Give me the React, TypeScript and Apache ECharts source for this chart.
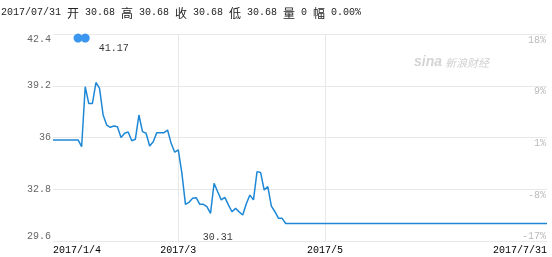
import React, { useEffect, useRef } from "react";
import * as echarts from "echarts";

const prices: number[] = [
  35.85, 35.85, 35.85, 35.85, 35.85, 35.85, 35.85, 35.85, 35.43, 39.14,
  38.1, 38.1, 39.4, 39.04, 37.39, 36.77, 36.63, 36.71, 36.67, 36.0,
  36.26, 36.34, 35.8, 35.89, 37.39, 36.36, 36.26, 35.47, 35.74, 36.3,
  36.3, 36.3, 36.46, 35.64, 35.09, 35.23, 33.8, 31.87, 31.99, 32.24,
  32.28, 31.87, 31.87, 31.72, 31.31, 33.17, 32.65, 32.14, 32.3, 31.83,
  31.41, 31.62, 31.4, 31.21, 31.9, 32.44, 32.14, 33.89, 33.83, 32.75,
  32.96, 31.76, 31.41, 31.0, 31.0, 30.68, 30.68, 30.68, 30.68, 30.68,
  30.68, 30.68, 30.68, 30.68, 30.68, 30.68, 30.68, 30.68, 30.68, 30.68,
  30.68, 30.68, 30.68, 30.68, 30.68, 30.68, 30.68, 30.68, 30.68, 30.68,
  30.68, 30.68, 30.68, 30.68, 30.68, 30.68, 30.68, 30.68, 30.68, 30.68,
  30.68, 30.68, 30.68, 30.68, 30.68, 30.68, 30.68, 30.68, 30.68, 30.68,
  30.68, 30.68, 30.68, 30.68, 30.68, 30.68, 30.68, 30.68, 30.68, 30.68,
  30.68, 30.68, 30.68, 30.68, 30.68, 30.68, 30.68, 30.68, 30.68, 30.68,
  30.68, 30.68, 30.68, 30.68, 30.68, 30.68, 30.68, 30.68, 30.68,
];

const xTickIndex: number[] = [0, 35, 76, 138];
const xTickLabels: string[] = ["2017/1/4", "2017/3", "2017/5", "2017/7/31"];
const leftTicks: string[] = ["29.6", "32.8", "36", "39.2", "42.4"];
const rightTicks: string[] = ["-17%", "-8%", "1%", "9%", "18%"];
const priceMin = 29.6;
const priceMax = 42.4;

const topDots: number[][] = [
  [7, 42.15],
  [9, 42.15],
];
const extremeLabels: (number | string)[][] = [
  [17, 41.52, "41.17"],
  [45.7, 29.8, "30.31"],
];

const infoDate = "2017/07/31";
const infoNames: string[] = ["开", "高", "收", "低", "量", "幅"];
const infoValues: string[] = ["30.68", "30.68", "30.68", "30.68", "0", "0.00%"];

const MONO = "'Liberation Mono', 'DejaVu Sans Mono', monospace";
const CJK = "'Noto Sans CJK SC', sans-serif";

export default function App() {
  const ref = useRef<HTMLDivElement>(null);
  useEffect(() => {
    if (!ref.current) return;
    const chart = echarts.init(ref.current, undefined, { renderer: "svg" });
    const categories = prices.map((_, i) => String(i));
    let titleText = `{d|${infoDate} }`;
    infoNames.forEach((n, k) => {
      titleText += `{c|${n}}{d| ${infoValues[k]}${k < infoNames.length - 1 ? " " : ""}}`;
    });
    chart.setOption({
      animation: false,
      grid: { left: 53, right: 5, top: 34, bottom: 16 },
      xAxis: {
        type: "category",
        boundaryGap: false,
        data: categories,
        axisLine: { show: false },
        axisTick: { show: false },
        axisLabel: {
          interval: (i: number) => xTickIndex.includes(i),
          formatter: (_v: string, i: number) => {
            const k = xTickIndex.indexOf(i);
            return k >= 0 ? xTickLabels[k] : "";
          },
          color: "#000",
          fontFamily: MONO,
          fontSize: 10,
          margin: 4,
          alignMinLabel: "left",
          alignMaxLabel: "right",
        },
        splitLine: {
          show: true,
          interval: (i: number) =>
            xTickIndex.includes(i) && i !== 0 && i !== prices.length - 1,
          lineStyle: { color: "#e8e8e8", width: 1 },
        },
      },
      yAxis: [
        {
          type: "value",
          min: priceMin,
          max: priceMax,
          show: false,
        },
        {
          type: "value",
          position: "left",
          min: 0,
          max: 4,
          interval: 1,
          axisLine: { show: false },
          axisTick: { show: false },
          axisLabel: {
            formatter: (v: number) => leftTicks[v],
            color: "#666",
            fontFamily: MONO,
            fontSize: 10,
            margin: 2,
            verticalAlignMaxLabel: "top",
            verticalAlignMinLabel: "bottom",
          },
          splitLine: { show: true, lineStyle: { color: "#e8e8e8", width: 1 } },
        },
        {
          type: "value",
          position: "right",
          min: 0,
          max: 4,
          interval: 1,
          axisLine: { show: false },
          axisTick: { show: false },
          axisLabel: {
            inside: true,
            formatter: (v: number) => rightTicks[v],
            color: "#bbb",
            fontFamily: MONO,
            fontSize: 10,
            margin: 1,
            verticalAlign: "top",
            verticalAlignMinLabel: "bottom",
            padding: [1, 0, 0, 0],
          },
          splitLine: { show: false },
        },
      ],
      series: [
        {
          type: "line",
          yAxisIndex: 0,
          data: prices,
          symbol: "none",
          lineStyle: { color: "#1E88D6", width: 1.5 },
          itemStyle: { color: "#1E88D6" },
          z: 3,
        },
        {
          type: "scatter",
          yAxisIndex: 0,
          data: topDots,
          symbolSize: 9,
          itemStyle: { color: "#3a96ee", opacity: 1 },
          z: 4,
        },
        {
          type: "scatter",
          yAxisIndex: 0,
          data: extremeLabels,
          symbolSize: 0,
          label: {
            show: true,
            position: "inside",
            formatter: (p: any) => p.value[2],
            color: "#000",
            fontFamily: MONO,
            fontSize: 10,
          },
          z: 5,
        },
      ],
      graphic: [
        {
          type: "text",
          left: 1,
          top: 6,
          style: {
            text: titleText,
            fill: "#222",
            rich: {
              d: { fontFamily: MONO, fontSize: 10, fill: "#222" },
              c: { fontFamily: CJK, fontSize: 12, fill: "#222" },
            },
          },
        },
        {
          type: "text",
          x: 414,
          y: 61,
          style: {
            text: "sina",
            fill: "#d4d4d4",
            font: "italic bold 14px 'Liberation Sans', sans-serif",
            verticalAlign: "middle",
          },
        },
        {
          type: "text",
          x: 445,
          y: 62,
          style: {
            text: "新浪财经",
            fill: "#d0d0d0",
            font: `italic 11px ${CJK}`,
            verticalAlign: "middle",
          },
        },
      ],
    });
    return () => chart.dispose();
  }, []);
  return (
    <div
      ref={ref}
      style={{ position: "fixed", left: 0, top: 0, width: 552, height: 257 }}
    />
  );
}
